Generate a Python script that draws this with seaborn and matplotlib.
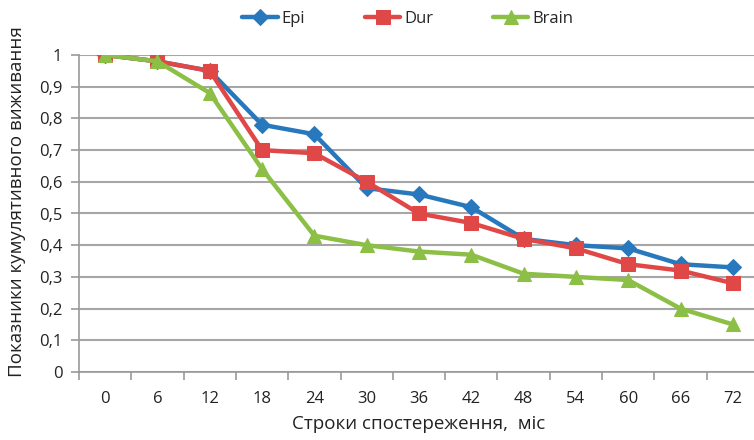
import matplotlib
matplotlib.use("Agg")
import matplotlib.pyplot as plt
import seaborn as sns
import pandas as pd
import numpy as np
from matplotlib.ticker import FixedLocator

months = [0, 6, 12, 18, 24, 30, 36, 42, 48, 54, 60, 66, 72]
epi = [1.00, 0.98, 0.95, 0.78, 0.75, 0.58, 0.56, 0.52, 0.42, 0.40, 0.39, 0.34, 0.33]
dur = [1.00, 0.98, 0.95, 0.70, 0.69, 0.60, 0.50, 0.47, 0.42, 0.39, 0.34, 0.32, 0.28]
brain = [1.00, 0.98, 0.88, 0.64, 0.43, 0.40, 0.38, 0.37, 0.31, 0.30, 0.29, 0.20, 0.15]
series_names = ["Epi", "Dur", "Brain"]
colors = ["#2878BD", "#E04848", "#8CBF45"]
markers = ["D", "s", "^"]
msizes = [8, 10, 10]
yticks = [0, 0.1, 0.2, 0.3, 0.4, 0.5, 0.6, 0.7, 0.8, 0.9, 1.0]

sns.set_theme(style="white")
plt.rcParams['font.family'] = ['Open Sans', 'DejaVu Sans']

rows = []
for name, vals in zip(series_names, [epi, dur, brain]):
    for i, v in enumerate(vals):
        rows.append({"idx": i, "val": v, "series": name})
df = pd.DataFrame(rows)

fig = plt.figure(figsize=(7.54, 4.40), dpi=100)
ax = fig.add_axes([79/754, 1 - 372/440, (759-79)/754, (372-55)/440])

for name, c, m, ms in zip(series_names, colors, markers, msizes):
    sub = df[df.series == name]
    sns.lineplot(data=sub, x="idx", y="val", ax=ax, color=c, marker=m,
                 markersize=ms, markeredgecolor=c, linewidth=3.2, label=name,
                 zorder=3)

ax.set_xlim(-0.5, 12.5)
ax.set_ylim(0, 1.0)
ax.set_yticks(yticks)
ax.set_yticklabels([("%g" % t).replace(".", ",") for t in yticks], fontsize=12, color="#222222")
ax.set_xticks(range(len(months)))
ax.set_xticklabels([str(m) for m in months], fontsize=12, color="#222222")
ax.xaxis.set_minor_locator(FixedLocator(np.arange(-0.5, 12.6, 1)))
ax.tick_params(axis="x", which="major", length=0, pad=14)
ax.tick_params(axis="x", which="minor", length=6, color="#999999", width=1.2, direction="out", bottom=True)
ax.tick_params(axis="y", which="major", length=6, color="#999999", width=1.2, direction="out", left=True, pad=6)
ax.yaxis.grid(True, color="#A6A6A6", linewidth=1.5)
ax.set_axisbelow(True)
for s in ["top", "right"]:
    ax.spines[s].set_visible(False)
for s in ["left", "bottom"]:
    ax.spines[s].set_color("#999999")
    ax.spines[s].set_linewidth(1.2)

ax.set_xlabel("Строки спостереження,  міс", fontsize=13.5, color="#222222")
ax.set_ylabel("Показники кумулятивного виживання", fontsize=13.5, color="#222222")
ax.xaxis.set_label_coords(0.5, (372 - 415) / 317)
ax.yaxis.set_label_coords((26 - 79) / 680, (372 - 202) / 317)

leg = ax.legend(loc="upper center", bbox_to_anchor=(408/754, 1.01), bbox_transform=fig.transFigure,
                ncol=3, frameon=False, fontsize=12, handlelength=2.1, columnspacing=3.6,
                handletextpad=0.25)

fig.savefig("out.png", dpi=100)
